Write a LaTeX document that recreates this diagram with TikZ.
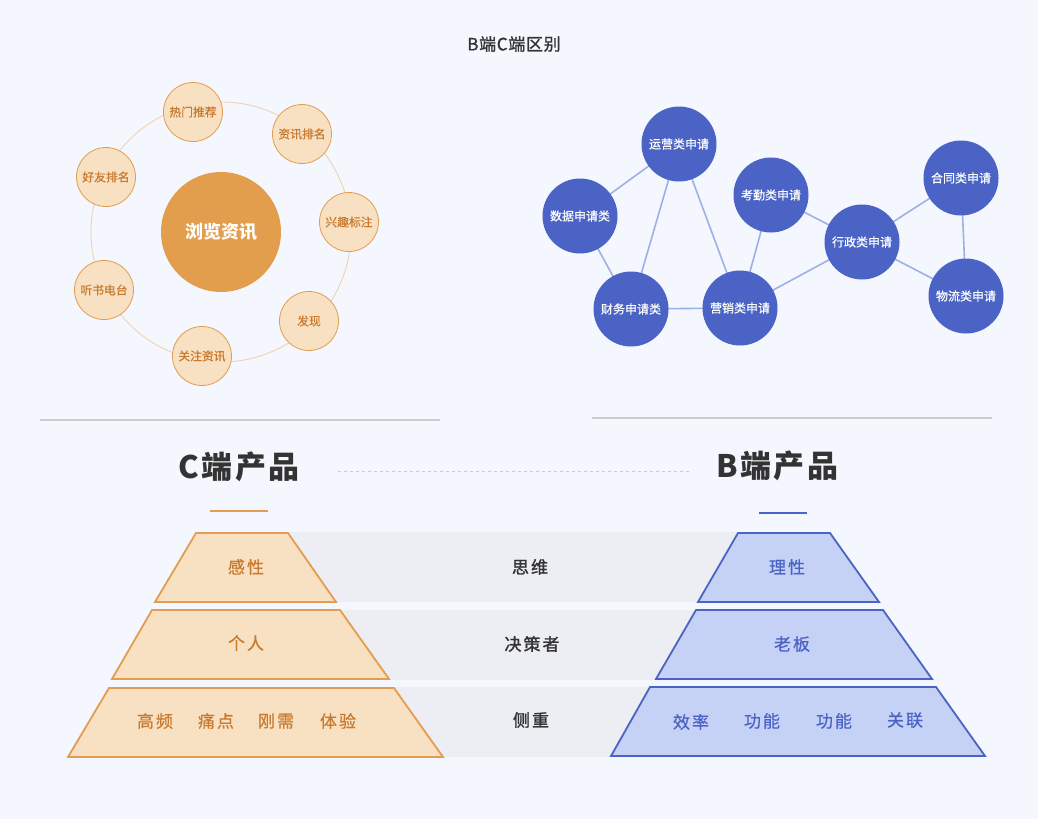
\documentclass[tikz,border=0pt]{standalone}
\usepackage{fontspec}
\setmainfont{Noto Sans CJK SC}
\usetikzlibrary{calc}
\definecolor{bg}{HTML}{F4F7FD}
\definecolor{ordark}{HTML}{E29E4C}
\definecolor{orline}{HTML}{E49C4F}
\definecolor{orlight}{HTML}{F8E0C2}
\definecolor{ortext}{HTML}{C97A2E}
\definecolor{orring}{HTML}{EFD3B3}
\definecolor{bldark}{HTML}{4A63C4}
\definecolor{bllight}{HTML}{C6D2F5}
\definecolor{bledge}{HTML}{9DB0E8}
\definecolor{band}{HTML}{ECEEF4}
\definecolor{sepgray}{HTML}{CCCCCC}
\definecolor{txtdark}{HTML}{333333}
\tikzset{
  x=1pt,y=-1pt,
  smallc/.style={circle,draw=orline,line width=0.8pt,fill=orlight,minimum size=59pt,inner sep=0pt,text=ortext,font=\fontsize{11.8}{12}\selectfont\addfontfeatures{FakeBold=0.6}},
  bluec/.style={circle,fill=bldark,minimum size=75pt,inner sep=0pt,text=white,font=\fontsize{12}{12}\selectfont\addfontfeatures{FakeBold=0.6}},
  edge/.style={draw=bledge,line width=1.6pt},
  ctrap/.style={draw=orline,line width=1.8pt,fill=orlight,line join=miter},
  btrap/.style={draw=bldark,line width=1.8pt,fill=bllight,line join=miter},
  ctext/.style={text=ortext,font=\fontsize{17}{18}\selectfont\addfontfeatures{LetterSpace=12,FakeBold=0.5}},
  btext/.style={text=bldark,font=\fontsize{17}{18}\selectfont\addfontfeatures{LetterSpace=12,FakeBold=0.5}},
  mtext/.style={text=txtdark,font=\fontsize{17}{18}\selectfont\addfontfeatures{LetterSpace=12,FakeBold=1.5}},
  bigtitle/.style={text=txtdark,font=\fontsize{31}{33}\selectfont\bfseries\addfontfeatures{LetterSpace=8}},
}
\begin{document}
\begin{tikzpicture}
\fill[bg] (0,0) rectangle (1038,819);
\useasboundingbox (0,0) rectangle (1038,819);

\node[text=txtdark,font=\fontsize{17}{18}\selectfont\addfontfeatures{LetterSpace=4,FakeBold=1}] (title) at (514,44) {B端C端区别};

% left cluster
\draw[orring,line width=0.9pt] (221,232) circle (130);
\node[circle,fill=ordark,minimum size=120pt,inner sep=0pt,text=white,font=\fontsize{18}{19}\selectfont\bfseries] (center) at (221,232) {浏览资讯};
\node[smallc] (c1) at (193,112) {热门推荐};
\node[smallc] (c2) at (302,134) {资讯排名};
\node[smallc] (c3) at (349,222) {兴趣标注};
\node[smallc] (c4) at (309,321) {发现};
\node[smallc] (c5) at (202,356) {关注资讯};
\node[smallc] (c6) at (104,290) {听书电台};
\node[smallc] (c7) at (106,177) {好友排名};

% right network
\coordinate (pyy) at (679,144);
\coordinate (psj) at (580,216);
\coordinate (pkq) at (771,195);
\coordinate (pht) at (961,178);
\coordinate (pxz) at (862,242);
\coordinate (pcw) at (631,309);
\coordinate (pyx) at (740,308);
\coordinate (pwl) at (966,296);
\draw[edge] (psj) -- (pyy);
\draw[edge] (psj) -- (pcw);
\draw[edge] (pyy) -- (pcw);
\draw[edge] (pyy) -- (pyx);
\draw[edge] (pcw) -- (pyx);
\draw[edge] (pkq) -- (pyx);
\draw[edge] (pkq) -- (pxz);
\draw[edge] (pyx) -- (pxz);
\draw[edge] (pxz) -- (pht);
\draw[edge] (pxz) -- (pwl);
\draw[edge] (pht) -- (pwl);
\node[bluec] (yy) at (pyy) {运营类申请};
\node[bluec] (sj) at (psj) {数据申请类};
\node[bluec] (kq) at (pkq) {考勤类申请};
\node[bluec] (ht) at (pht) {合同类申请};
\node[bluec] (xz) at (pxz) {行政类申请};
\node[bluec] (cw) at (pcw) {财务申请类};
\node[bluec] (yx) at (pyx) {营销类申请};
\node[bluec] (wl) at (pwl) {物流类申请};

% separators
\draw[sepgray,line width=1.2pt] (40,420) -- (440,420);
\draw[sepgray,line width=1.2pt] (592,418) -- (992,418);

% headings
\node[bigtitle] (ct) at (239,467) {C端产品};
\node[bigtitle] (bt) at (777,466) {B端产品};
\draw[sepgray,line width=1pt,dash pattern=on 3pt off 3pt] (338,471) -- (690,471);
\draw[orline,line width=1.8pt] (210,511) -- (268,511);
\draw[bldark,line width=1.8pt] (759,513) -- (807,513);

% bands
\fill[band] (250,532) rectangle (800,602);
\fill[band] (250,610) rectangle (800,680);
\fill[band] (250,687) rectangle (800,757);

% C trapezoids
\draw[ctrap] (196,533) -- (288,533) -- (336,602) -- (155,602) -- cycle;
\draw[ctrap] (152,610) -- (340,610) -- (389,679) -- (112,679) -- cycle;
\draw[ctrap] (109,688) -- (394,688) -- (443,757) -- (68,757) -- cycle;
% B trapezoids
\draw[btrap] (738,533) -- (830,533) -- (879,602) -- (698,602) -- cycle;
\draw[btrap] (696,610) -- (883,610) -- (932,679) -- (656,679) -- cycle;
\draw[btrap] (650,687) -- (936,687) -- (985,756) -- (611,756) -- cycle;

% texts
\node[ctext] (c_r1) at (246,567) {感性};
\node[ctext] (c_r2) at (246,643) {个人};
\node[ctext] (c_r3a) at (155,721) {高频};
\node[ctext] (c_r3b) at (216,721) {痛点};
\node[ctext] (c_r3c) at (276,721) {刚需};
\node[ctext] (c_r3d) at (338,721) {体验};

\node[mtext] (m1) at (530,567) {思维};
\node[mtext] (m2) at (532,644) {决策者};
\node[mtext] (m3) at (531,720) {侧重};

\node[btext] (b_r1) at (787,567) {理性};
\node[btext] (b_r2) at (792,644) {老板};
\node[btext] (b_r3a) at (691,722) {效率};
\node[btext] (b_r3b) at (762,721) {功能};
\node[btext] (b_r3c) at (834,721) {功能};
\node[btext] (b_r3d) at (905,720) {关联};
\end{tikzpicture}
\end{document}
